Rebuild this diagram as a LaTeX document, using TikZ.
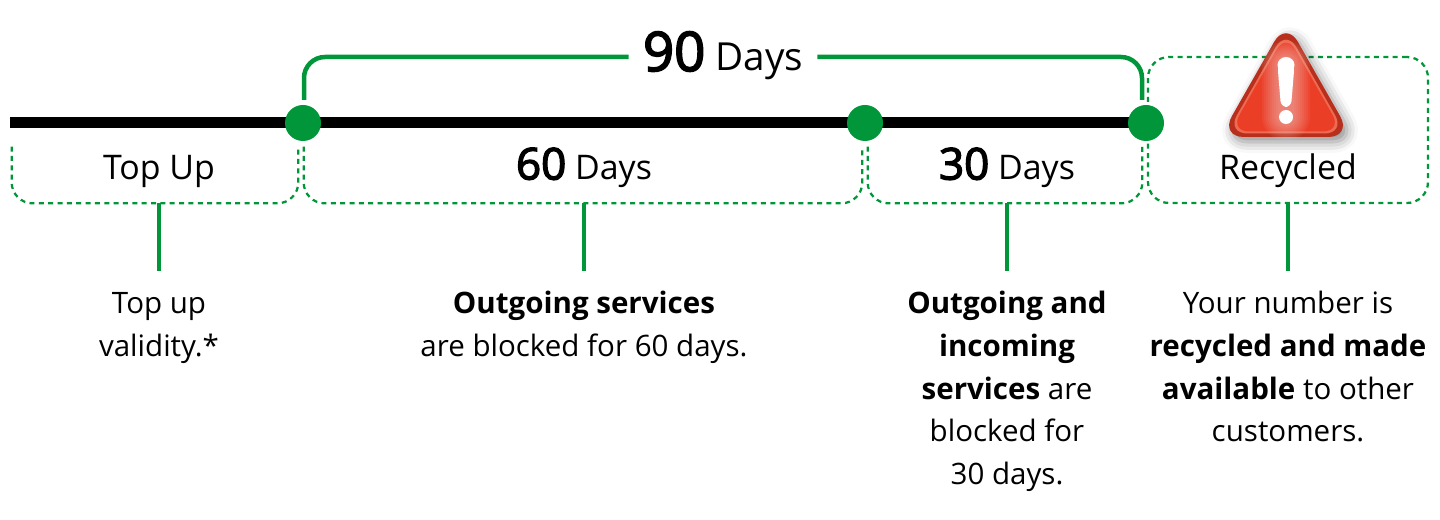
\documentclass[tikz,border=0pt]{standalone}
\usepackage{fontspec}
\setmainfont{Open Sans}
\newfontfamily\numfont[FakeBold=3]{Open Sans}
\usetikzlibrary{shadows.blur}
\definecolor{linegreen}{HTML}{009639}
\definecolor{warnred}{HTML}{EB3E27}
\definecolor{warndark}{HTML}{B8301D}
\definecolor{warnrim}{HTML}{EE6A50}
\tikzset{
  dot/.style={circle, fill=linegreen, minimum size=0.72cm, inner sep=0pt},
  dashbox/.style={linegreen, line width=0.045cm, dash pattern=on 0.10cm off 0.087cm, rounded corners=0.42cm},
  bracket/.style={linegreen, line width=0.09cm, rounded corners=0.42cm},
  stem/.style={linegreen, line width=0.08cm},
  spanbox/.style={inner sep=0pt, minimum height=1.12cm},
  labeltext/.style={anchor=base, font=\fontsize{19.3}{22}\selectfont},
  desc/.style={anchor=north, align=center, inner xsep=0pt, inner ysep=0.25cm, font=\fontsize{16.8}{24.3}\selectfont}
}
\begin{document}
\begin{tikzpicture}
  \useasboundingbox (0,0) rectangle (28.8,-10.4);

  % dashed boxes
  \node[spanbox, minimum width=5.72cm] (spanTop) at (3.10,-3.50) {};
  \node[spanbox, minimum width=11.16cm] (spanSixty) at (11.66,-3.50) {};
  \node[spanbox, minimum width=5.48cm] (spanThirty) at (20.10,-3.50) {};
  \node[draw, dashbox, inner sep=0pt, minimum width=5.60cm, minimum height=2.92cm] (spanRecycled) at (25.76,-2.60) {};
  \draw[dashbox] (spanTop.north west) -- (spanTop.south west) -- (spanTop.south east) -- (spanTop.north east);
  \draw[dashbox] (spanSixty.north west) -- (spanSixty.south west) -- (spanSixty.south east) -- (spanSixty.north east);
  \draw[dashbox] (spanThirty.north west) -- (spanThirty.south west) -- (spanThirty.south east) -- (spanThirty.north east);

  % time line
  \coordinate (lineStart) at (0.20,-2.46);
  \coordinate (lineEnd) at (22.92,-2.46);
  \draw[black, line width=0.22cm] (lineStart) -- (lineEnd);
  \node[dot] (dotA) at (6.06,-2.46) {};
  \node[dot] (dotB) at (17.30,-2.46) {};
  \node[dot] (dotC) at (22.92,-2.46) {};

  % 90 days bracket
  \node[labeltext, inner xsep=0.28cm, font=\fontsize{22}{26}\selectfont] (labelNinety) at (14.46,-1.42) {{\fontsize{31}{34}\numfont 90} Days};
  \coordinate (bracketA) at (6.08,-2.00);
  \coordinate (bracketC) at (22.84,-2.00);
  \coordinate (bracketY) at (14.46,-1.14);
  \draw[bracket] (bracketA) |- (bracketY -| labelNinety.west);
  \draw[bracket] (bracketC) |- (bracketY -| labelNinety.east);

  % warning sign
  \fill[warndark, rounded corners=0.48cm, blur shadow={shadow xshift=0.08cm, shadow yshift=-0.10cm, shadow blur radius=0.22cm, shadow opacity=45}]
    (25.72,-0.42) -- (24.40,-2.74) -- (27.04,-2.74) -- cycle;
  \fill[warnrim, rounded corners=0.42cm] (25.72,-0.58) -- (24.53,-2.67) -- (26.91,-2.67) -- cycle;
  \fill[warnred, rounded corners=0.38cm] (25.72,-0.66) -- (24.60,-2.63) -- (26.84,-2.63) -- cycle;
  \foreach \glow in {0.95,0.87,0.79,0.71,0.63,0.55,0.47,0.39,0.31}
    \draw[white, opacity=0.05, line width=\glow cm, line cap=round] (25.72,-1.30) -- (25.72,-2.34);
  \fill[white, rounded corners=0.12cm] (25.55,-1.30) -- (25.62,-2.14) -- (25.82,-2.14) -- (25.89,-1.30) -- cycle;
  \fill[white] (25.72,-1.30) ellipse (0.17cm and 0.16cm);
  \fill[white] (25.72,-2.34) circle (0.14cm);

  % labels
  \node[labeltext] (labelTop) at (3.18,-3.59) {Top Up};
  \node[labeltext] (labelSixty) at (11.68,-3.59) {{\fontsize{25}{28}\numfont 60} Days};
  \node[labeltext] (labelThirty) at (20.14,-3.59) {{\fontsize{25}{28}\numfont 30} Days};
  \node[labeltext] (labelRecycled) at (25.76,-3.59) {Recycled};

  % descriptions
  \node[desc] (descTop) at (3.18,-5.42) {\strut Top up\\validity.*};
  \node[desc] (descSixty) at (11.68,-5.42) {\strut\textbf{Outgoing services}\\are blocked for 60 days.};
  \node[desc] (descThirty) at (20.14,-5.42) {\strut\textbf{Outgoing and}\\\textbf{incoming}\\\textbf{services} are\\blocked for\\30 days.};
  \node[desc] (descRecycled) at (25.76,-5.42) {\strut Your number is\\\textbf{recycled and made}\\\textbf{available} to other\\customers.};

  \draw[stem] (spanTop.south -| descTop.north) -- (descTop.north);
  \draw[stem] (spanSixty.south -| descSixty.north) -- (descSixty.north);
  \draw[stem] (spanThirty.south -| descThirty.north) -- (descThirty.north);
  \draw[stem] (spanRecycled.south -| descRecycled.north) -- (descRecycled.north);
\end{tikzpicture}
\end{document}
